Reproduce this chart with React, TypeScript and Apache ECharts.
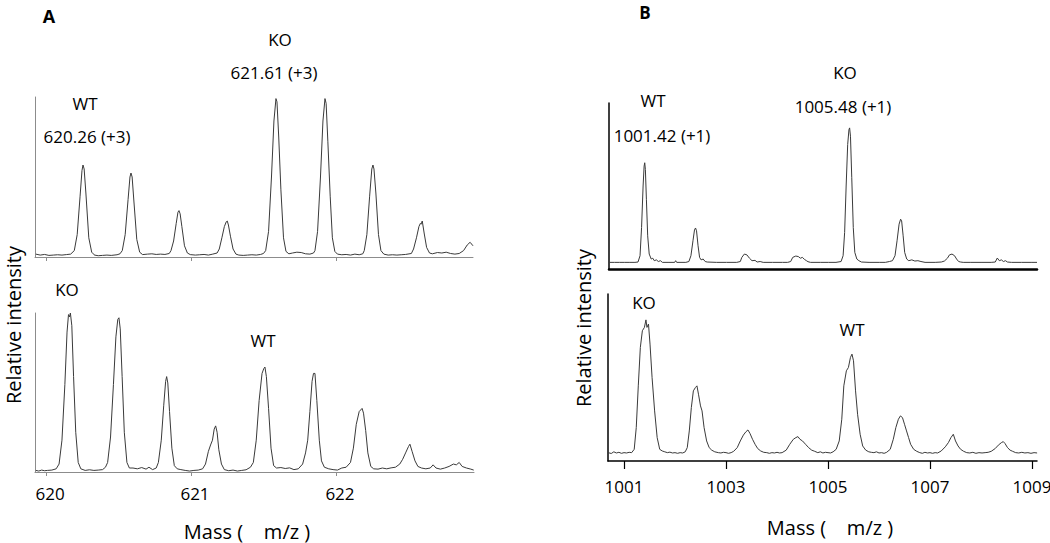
import React, { useEffect, useRef } from "react";
import * as echarts from "echarts";

// ---------- DATA ----------
const massTicksA = [620, 621, 622];
const massTicksB = [1001, 1003, 1005, 1007, 1009];

// Panel A, top spectrum (m/z, relative intensity)
const specATop: number[][] = [
  [619.93, 0.018], [619.96, 0.012], [619.99, 0.016], [620.02, 0.01], [620.05, 0.012], [620.08, 0.014], [620.11, 0.012], [620.14, 0.015], [620.17, 0.018],
  [620.195, 0.04], [620.215, 0.14], [620.235, 0.38], [620.248, 0.54], [620.255, 0.575], [620.263, 0.55], [620.275, 0.4], [620.295, 0.12], [620.315, 0.03], [620.335, 0.012],
  [620.36, 0.008], [620.39, 0.01], [620.42, 0.012], [620.45, 0.01], [620.49, 0.014], [620.51, 0.02],
  [620.526, 0.04], [620.546, 0.14], [620.566, 0.36], [620.579, 0.5], [620.586, 0.525], [620.594, 0.5], [620.606, 0.35], [620.626, 0.11], [620.646, 0.03], [620.666, 0.015],
  [620.7, 0.018], [620.73, 0.02], [620.76, 0.016], [620.79, 0.018], [620.82, 0.016], [620.85, 0.022],
  [620.862, 0.04], [620.88, 0.1], [620.898, 0.21], [620.91, 0.28], [620.917, 0.29], [620.925, 0.27], [620.937, 0.19], [620.955, 0.07], [620.975, 0.025], [620.995, 0.015],
  [621.03, 0.012], [621.06, 0.014], [621.09, 0.016], [621.12, 0.012], [621.15, 0.018], [621.18, 0.025],
  [621.195, 0.05], [621.213, 0.12], [621.23, 0.19], [621.243, 0.22], [621.25, 0.225], [621.258, 0.2], [621.272, 0.13], [621.29, 0.05], [621.31, 0.018], [621.33, 0.012],
  [621.36, 0.01], [621.39, 0.012], [621.42, 0.014], [621.45, 0.012], [621.48, 0.016], [621.5, 0.022],
  [621.515, 0.04], [621.535, 0.16], [621.555, 0.5], [621.572, 0.85], [621.586, 0.99], [621.593, 0.97], [621.605, 0.75], [621.62, 0.42], [621.638, 0.12], [621.655, 0.035], [621.675, 0.02],
  [621.7, 0.025], [621.73, 0.03], [621.76, 0.028], [621.79, 0.02], [621.82, 0.018], [621.845, 0.025],
  [621.855, 0.04], [621.873, 0.16], [621.893, 0.5], [621.91, 0.85], [621.924, 0.99], [621.932, 0.96], [621.944, 0.72], [621.96, 0.38], [621.975, 0.12], [621.992, 0.035], [622.01, 0.018],
  [622.04, 0.014], [622.07, 0.016], [622.1, 0.012], [622.13, 0.018], [622.16, 0.014], [622.185, 0.02],
  [622.195, 0.04], [622.213, 0.14], [622.232, 0.38], [622.247, 0.55], [622.255, 0.575], [622.262, 0.55], [622.275, 0.4], [622.293, 0.14], [622.31, 0.04], [622.33, 0.018],
  [622.36, 0.012], [622.39, 0.014], [622.42, 0.012], [622.45, 0.014], [622.48, 0.016], [622.52, 0.022],
  [622.535, 0.05], [622.555, 0.12], [622.572, 0.19], [622.582, 0.21], [622.587, 0.205], [622.595, 0.225], [622.608, 0.15], [622.625, 0.06], [622.645, 0.025], [622.665, 0.02],
  [622.7, 0.028], [622.73, 0.025], [622.76, 0.03], [622.79, 0.022], [622.82, 0.018], [622.85, 0.022], [622.88, 0.04], [622.905, 0.075], [622.925, 0.092], [622.945, 0.07],
];

// Panel A, bottom spectrum
const specABottom: number[][] = [
  [619.93, 0.01], [619.95, 0.006], [619.97, 0.012], [619.99, 0.008], [620.01, 0.01], [620.04, 0.012], [620.07, 0.02],
  [620.09, 0.05], [620.11, 0.2], [620.13, 0.55], [620.145, 0.88], [620.155, 0.99], [620.162, 0.975], [620.168, 1.0], [620.178, 0.92], [620.19, 0.6], [620.205, 0.25], [620.222, 0.06], [620.24, 0.02],
  [620.27, 0.01], [620.3, 0.014], [620.33, 0.01], [620.36, 0.012], [620.39, 0.015], [620.41, 0.03],
  [620.425, 0.06], [620.445, 0.22], [620.465, 0.55], [620.482, 0.85], [620.495, 0.96], [620.503, 0.97], [620.512, 0.9], [620.525, 0.6], [620.54, 0.25], [620.558, 0.06], [620.575, 0.025],
  [620.6, 0.025], [620.63, 0.02], [620.66, 0.028], [620.69, 0.018], [620.71, 0.03], [620.735, 0.015], [620.76, 0.025],
  [620.775, 0.06], [620.795, 0.2], [620.812, 0.42], [620.825, 0.57], [620.832, 0.6], [620.84, 0.56], [620.852, 0.38], [620.868, 0.15], [620.885, 0.04], [620.905, 0.02],
  [620.93, 0.015], [620.96, 0.01], [620.99, 0.006], [621.02, 0.01], [621.05, 0.012], [621.08, 0.02],
  [621.1, 0.05], [621.12, 0.13], [621.135, 0.17], [621.148, 0.2], [621.16, 0.27], [621.17, 0.29], [621.18, 0.25], [621.192, 0.14], [621.21, 0.05], [621.23, 0.015],
  [621.26, 0.008], [621.29, 0.012], [621.32, 0.006], [621.35, 0.01], [621.38, 0.014], [621.41, 0.03],
  [621.43, 0.06], [621.45, 0.2], [621.47, 0.45], [621.49, 0.62], [621.502, 0.65], [621.51, 0.66], [621.52, 0.6], [621.535, 0.4], [621.552, 0.15], [621.57, 0.04], [621.59, 0.025],
  [621.62, 0.028], [621.65, 0.022], [621.68, 0.026], [621.71, 0.015], [621.74, 0.02],
  [621.77, 0.05], [621.79, 0.12], [621.805, 0.2], [621.82, 0.38], [621.835, 0.57], [621.845, 0.62], [621.855, 0.62], [621.868, 0.45], [621.885, 0.2], [621.9, 0.07], [621.92, 0.03],
  [621.95, 0.02], [621.98, 0.015], [622.01, 0.012], [622.04, 0.025], [622.07, 0.03],
  [622.1, 0.06], [622.12, 0.15], [622.14, 0.3], [622.16, 0.38], [622.18, 0.4], [622.19, 0.37], [622.205, 0.26], [622.22, 0.12], [622.24, 0.035], [622.26, 0.02],
  [622.29, 0.018], [622.32, 0.025], [622.35, 0.02], [622.38, 0.026], [622.41, 0.03], [622.44, 0.05],
  [622.46, 0.08], [622.48, 0.12], [622.5, 0.16], [622.51, 0.175], [622.525, 0.13], [622.545, 0.07], [622.565, 0.035], [622.59, 0.025],
  [622.62, 0.02], [622.65, 0.025], [622.67, 0.045], [622.69, 0.025], [622.72, 0.018], [622.75, 0.025], [622.78, 0.035], [622.81, 0.05], [622.83, 0.045], [622.85, 0.06], [622.87, 0.035], [622.9, 0.025], [622.93, 0.018], [622.95, 0.012],
];

// Panel B, top spectrum
const specBTop: number[][] = [
  [1000.69, 0.04], [1000.8, 0.04], [1000.9, 0.04], [1001.0, 0.04], [1001.1, 0.04], [1001.2, 0.04], [1001.26, 0.042],
  [1001.3, 0.08], [1001.33, 0.25], [1001.36, 0.5], [1001.38, 0.62], [1001.392, 0.64], [1001.405, 0.6], [1001.425, 0.42], [1001.45, 0.2], [1001.48, 0.09], [1001.52, 0.06], [1001.55, 0.065], [1001.58, 0.05], [1001.62, 0.055], [1001.66, 0.045], [1001.7, 0.05], [1001.74, 0.04],
  [1001.85, 0.04], [1001.98, 0.04], [1002.0, 0.05], [1002.02, 0.04], [1002.2, 0.04], [1002.26, 0.045],
  [1002.3, 0.08], [1002.34, 0.17], [1002.37, 0.235], [1002.39, 0.247], [1002.41, 0.23], [1002.44, 0.14], [1002.47, 0.07], [1002.5, 0.055], [1002.54, 0.06], [1002.58, 0.045], [1002.62, 0.042],
  [1002.8, 0.04], [1003.0, 0.04], [1003.2, 0.04], [1003.27, 0.045],
  [1003.3, 0.07], [1003.35, 0.09], [1003.4, 0.085], [1003.45, 0.065], [1003.5, 0.05], [1003.56, 0.052], [1003.6, 0.042], [1003.66, 0.045], [1003.72, 0.04],
  [1003.9, 0.04], [1004.1, 0.04], [1004.2, 0.04], [1004.26, 0.045],
  [1004.3, 0.07], [1004.36, 0.078], [1004.41, 0.075], [1004.45, 0.065], [1004.49, 0.07], [1004.53, 0.058], [1004.57, 0.05], [1004.6, 0.044], [1004.65, 0.04],
  [1004.85, 0.04], [1005.0, 0.04], [1005.15, 0.04], [1005.25, 0.045],
  [1005.29, 0.08], [1005.32, 0.22], [1005.35, 0.5], [1005.38, 0.75], [1005.405, 0.84], [1005.418, 0.85], [1005.435, 0.8], [1005.46, 0.55], [1005.49, 0.25], [1005.52, 0.1], [1005.56, 0.06], [1005.6, 0.05], [1005.65, 0.042],
  [1005.8, 0.04], [1006.0, 0.04], [1006.12, 0.04], [1006.2, 0.045], [1006.26, 0.05],
  [1006.31, 0.08], [1006.35, 0.17], [1006.39, 0.27], [1006.42, 0.3], [1006.44, 0.29], [1006.47, 0.2], [1006.5, 0.1], [1006.54, 0.06], [1006.58, 0.05], [1006.64, 0.055], [1006.7, 0.048], [1006.76, 0.05], [1006.82, 0.045], [1006.9, 0.04],
  [1007.1, 0.04], [1007.22, 0.042], [1007.28, 0.048],
  [1007.34, 0.065], [1007.38, 0.085], [1007.43, 0.09], [1007.48, 0.08], [1007.52, 0.06], [1007.56, 0.045], [1007.6, 0.042], [1007.65, 0.04],
  [1007.8, 0.04], [1008.0, 0.04], [1008.2, 0.04], [1008.28, 0.042],
  [1008.32, 0.066], [1008.36, 0.05], [1008.4, 0.055], [1008.44, 0.045], [1008.48, 0.05], [1008.52, 0.042], [1008.6, 0.04], [1008.8, 0.04], [1009.0, 0.04], [1009.1, 0.04],
];

// Panel B, bottom spectrum
const specBBottom: number[][] = [
  [1000.69, 0.05], [1000.75, 0.045], [1000.8, 0.055], [1000.85, 0.048], [1000.9, 0.052], [1000.95, 0.046], [1001.0, 0.05], [1001.05, 0.048], [1001.1, 0.052], [1001.15, 0.05], [1001.2, 0.07],
  [1001.24, 0.2], [1001.28, 0.45], [1001.32, 0.68], [1001.36, 0.78], [1001.4, 0.8], [1001.43, 0.845], [1001.45, 0.8], [1001.48, 0.82], [1001.51, 0.7], [1001.55, 0.5], [1001.6, 0.3], [1001.65, 0.14], [1001.7, 0.07], [1001.75, 0.06], [1001.8, 0.055],
  [1001.85, 0.05], [1001.9, 0.053], [1001.95, 0.048], [1002.0, 0.05], [1002.05, 0.046], [1002.1, 0.05], [1002.15, 0.048], [1002.2, 0.055], [1002.24, 0.08],
  [1002.28, 0.18], [1002.32, 0.32], [1002.36, 0.42], [1002.4, 0.44], [1002.43, 0.45], [1002.46, 0.4], [1002.5, 0.33], [1002.53, 0.3], [1002.57, 0.2], [1002.62, 0.12], [1002.67, 0.08], [1002.72, 0.065], [1002.78, 0.055],
  [1002.85, 0.05], [1002.9, 0.048], [1002.95, 0.052], [1003.0, 0.05], [1003.05, 0.046], [1003.1, 0.05], [1003.15, 0.058], [1003.22, 0.08],
  [1003.28, 0.12], [1003.34, 0.155], [1003.39, 0.175], [1003.43, 0.186], [1003.47, 0.165], [1003.52, 0.13], [1003.57, 0.1], [1003.62, 0.075], [1003.68, 0.06], [1003.74, 0.052],
  [1003.8, 0.05], [1003.85, 0.046], [1003.9, 0.05], [1003.95, 0.048], [1004.0, 0.052], [1004.05, 0.048], [1004.1, 0.05], [1004.18, 0.065],
  [1004.25, 0.1], [1004.32, 0.13], [1004.37, 0.14], [1004.41, 0.146], [1004.45, 0.13], [1004.5, 0.12], [1004.56, 0.1], [1004.62, 0.08], [1004.68, 0.065], [1004.74, 0.058],
  [1004.8, 0.05], [1004.85, 0.055], [1004.9, 0.048], [1004.95, 0.052], [1005.0, 0.05], [1005.05, 0.048], [1005.1, 0.055], [1005.16, 0.07],
  [1005.22, 0.12], [1005.27, 0.25], [1005.31, 0.45], [1005.36, 0.54], [1005.4, 0.56], [1005.44, 0.62], [1005.47, 0.64], [1005.5, 0.6], [1005.54, 0.42], [1005.58, 0.28], [1005.63, 0.16], [1005.68, 0.09], [1005.74, 0.065], [1005.8, 0.055],
  [1005.85, 0.052], [1005.9, 0.05], [1005.95, 0.055], [1006.0, 0.048], [1006.05, 0.05], [1006.1, 0.046], [1006.15, 0.052], [1006.22, 0.07],
  [1006.28, 0.13], [1006.33, 0.2], [1006.38, 0.25], [1006.42, 0.27], [1006.46, 0.26], [1006.5, 0.22], [1006.54, 0.18], [1006.58, 0.14], [1006.62, 0.1], [1006.68, 0.07], [1006.74, 0.058],
  [1006.8, 0.05], [1006.85, 0.046], [1006.9, 0.052], [1006.95, 0.048], [1007.0, 0.05], [1007.05, 0.046], [1007.1, 0.05], [1007.15, 0.048], [1007.22, 0.06], [1007.3, 0.085],
  [1007.36, 0.11], [1007.41, 0.14], [1007.457, 0.16], [1007.5, 0.12], [1007.55, 0.09], [1007.6, 0.07], [1007.66, 0.058],
  [1007.72, 0.05], [1007.78, 0.048], [1007.84, 0.052], [1007.9, 0.046], [1007.96, 0.05], [1008.02, 0.048], [1008.08, 0.05], [1008.14, 0.052], [1008.2, 0.058], [1008.28, 0.075],
  [1008.34, 0.095], [1008.4, 0.11], [1008.437, 0.116], [1008.47, 0.105], [1008.52, 0.08], [1008.57, 0.065], [1008.62, 0.058],
  [1008.68, 0.05], [1008.74, 0.048], [1008.8, 0.052], [1008.86, 0.048], [1008.92, 0.05], [1008.98, 0.046], [1009.04, 0.05], [1009.1, 0.048],
];

const FONT = "'Open Sans', 'Noto Sans', sans-serif";
const LINE = "#3a3a3a";

export default function App() {
  const ref = useRef<HTMLDivElement>(null);
  useEffect(() => {
    if (!ref.current) return;
    const chart = echarts.init(ref.current, undefined, { renderer: "svg" });

    const grayAxis = { show: true, lineStyle: { color: "#8c8c8c", width: 1 } };
    const blackAxis = { show: true, lineStyle: { color: "#000", width: 1.5 } };

    const mkY = (gridIndex: number, axisLine: any) => ({
      type: "value", gridIndex, min: 0, max: 1,
      axisLine, axisTick: { show: false }, axisLabel: { show: false }, splitLine: { show: false },
    });

    const txt = (text: string, x: number, y: number, size = 17, weight: any = "normal") => ({
      type: "text", x, y,
      style: { text, x: 0, y: 0, fill: "#000", font: `${weight} ${size}px ${FONT}`, textAlign: "center", textVerticalAlign: "middle" },
    });
    const vtxt = (text: string, x: number, y: number) => ({
      type: "text", x, y, rotation: Math.PI / 2,
      style: { text, x: 0, y: 0, fill: "#000", font: `normal 20px ${FONT}`, textAlign: "center", textVerticalAlign: "middle" },
    });

    const option: any = {
      animation: false,
      backgroundColor: "#fff",
      grid: [
        { left: 35, top: 97, width: 438, height: 160, outerBoundsMode: "none" },
        { left: 35, top: 313, width: 439, height: 159, outerBoundsMode: "none" },
        { left: 609, top: 103, width: 428, height: 166, outerBoundsMode: "none" },
        { left: 608, top: 294, width: 429, height: 167, outerBoundsMode: "none" },
      ],
      xAxis: [
        {
          type: "value", gridIndex: 0, min: 619.924, max: 622.945,
          axisLine: grayAxis,
          axisTick: { show: true, length: 4, lineStyle: { color: "#8c8c8c" }, customValues: massTicksA },
          axisLabel: { show: false }, splitLine: { show: false },
        },
        {
          type: "value", gridIndex: 1, min: 619.924, max: 622.952,
          axisLine: grayAxis,
          axisTick: { show: true, length: 4, lineStyle: { color: "#8c8c8c" }, customValues: massTicksA },
          axisLabel: {
            show: true, customValues: massTicksA, fontFamily: FONT, fontSize: 17, color: "#000",
            margin: 13, padding: [0, 0, 0, 8], formatter: (v: number) => String(v),
          },
          splitLine: { show: false },
        },
        {
          type: "value", gridIndex: 2, min: 1000.69, max: 1009.1,
          axisLine: { show: true, lineStyle: { color: "#000", width: 2.5 } },
          axisTick: { show: false }, axisLabel: { show: false }, splitLine: { show: false },
        },
        {
          type: "value", gridIndex: 3, min: 1000.686, max: 1009.098,
          axisLine: blackAxis,
          axisTick: { show: true, length: 8, lineStyle: { color: "#000", width: 1.2 }, customValues: massTicksB },
          axisLabel: {
            show: true, customValues: massTicksB, fontFamily: FONT, fontSize: 17, color: "#000",
            margin: 17, formatter: (v: number) => String(v),
          },
          splitLine: { show: false },
        },
      ],
      yAxis: [mkY(0, grayAxis), mkY(1, grayAxis), mkY(2, blackAxis), mkY(3, blackAxis)],
      series: [
        { type: "line", xAxisIndex: 0, yAxisIndex: 0, data: specATop },
        { type: "line", xAxisIndex: 1, yAxisIndex: 1, data: specABottom },
        { type: "line", xAxisIndex: 2, yAxisIndex: 2, data: specBTop },
        { type: "line", xAxisIndex: 3, yAxisIndex: 3, data: specBBottom },
      ].map((s) => ({ ...s, showSymbol: false, symbol: "none", silent: true, lineStyle: { color: LINE, width: 1 } })),
      graphic: [
        txt("A", 49, 16, 18, "bold"),
        txt("B", 645, 12, 17, "bold"),
        txt("KO", 280, 39),
        txt("621.61 (+3)", 274, 72),
        txt("WT", 85, 103),
        txt("620.26 (+3)", 87, 136),
        txt("KO", 67, 289),
        txt("WT", 263, 340),
        txt("KO", 845, 72),
        txt("1005.48 (+1)", 843, 106),
        txt("WT", 653, 100),
        txt("1001.42 (+1)", 662, 135),
        txt("KO", 644, 302),
        txt("WT", 852, 329),
        vtxt("Relative intensity", 13, 325),
        vtxt("Relative intensity", 583, 328),
        txt("Mass (    m/z )", 247, 531, 20),
        txt("Mass (    m/z )", 830, 527, 20),
      ],
    };
    chart.setOption(option);
    return () => chart.dispose();
  }, []);
  return <div ref={ref} style={{ position: "fixed", left: 0, top: 0, width: 1050, height: 543, background: "#fff" }} />;
}
